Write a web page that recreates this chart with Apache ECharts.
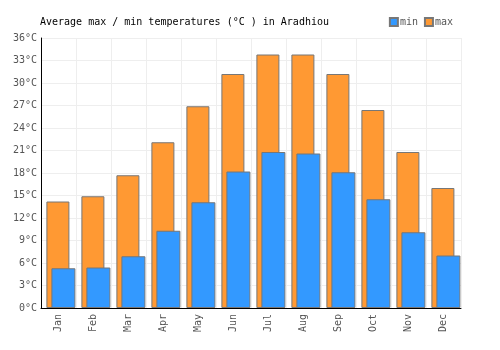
<!DOCTYPE html>
<html><head><meta charset="utf-8">
<script src="https://cdn.jsdelivr.net/npm/echarts@6/dist/echarts.min.js"></script>
<style>html,body{margin:0;padding:0;background:#fff}#c{width:500px;height:350px}</style>
</head><body><div id="c"></div>
<script>
var months = ['Jan','Feb','Mar','Apr','May','Jun','Jul','Aug','Sep','Oct','Nov','Dec'];
var minTemps = [5.3, 5.4, 6.9, 10.3, 14.1, 18.2, 20.8, 20.6, 18.1, 14.5, 10.1, 7.0];
var maxTemps = [14.2, 14.9, 17.7, 22.1, 26.9, 31.2, 33.8, 33.8, 31.2, 26.4, 20.8, 16.0];
var yTicks = {min: 0, max: 36, interval: 3};

var font = 'DejaVu Sans Mono';
var chart = echarts.init(document.getElementById('c'));
chart.setOption({
  animation: false,
  title: {text: 'Average max / min temperatures (°C ) in Aradhiou', left: 35, top: 12,
    textStyle: {fontFamily: font, fontSize: 10, fontWeight: 'normal', color: '#000'}},
  legend: {data: ['min','max'], right: 42, top: 12, itemWidth: 8, itemHeight: 8, itemGap: 6,
    icon: 'rect',
    textStyle: {fontFamily: font, fontSize: 10, color: '#555', padding: [0,0,0,-3]}},
  grid: {left: 41, right: 39, top: 38, bottom: 42},
  xAxis: {type: 'category', data: months,
    axisLine: {lineStyle: {color: '#000'}}, axisTick: {show: false},
    splitLine: {show: true, lineStyle: {color: '#eee'}},
    axisLabel: {rotate: 90, fontFamily: font, fontSize: 10, color: '#555', margin: 6, interval: 0}},
  yAxis: {type: 'value', min: yTicks.min, max: yTicks.max, interval: yTicks.interval,
    axisLine: {show: true, lineStyle: {color: '#000'}}, axisTick: {show: false},
    splitLine: {lineStyle: {color: '#eee'}},
    axisLabel: {formatter: '{value}°C', fontFamily: font, fontSize: 10, color: '#555', margin: 4}},
  series: [
    {name: 'max', type: 'bar', data: maxTemps, barWidth: 23, barGap: '-78.26%', z: 2,
      itemStyle: {color: '#ff9933', borderColor: '#777', borderWidth: 1, borderRadius: 0}},
    {name: 'min', type: 'bar', data: minTemps, barWidth: 24, barGap: '-78.26%', z: 3,
      itemStyle: {color: '#3399ff', borderColor: '#777', borderWidth: 1, borderRadius: 0}},
    {name: 'pad', type: 'bar', data: [], barWidth: 14, barGap: '-78.26%', silent: true}
  ]
});
</script></body></html>
